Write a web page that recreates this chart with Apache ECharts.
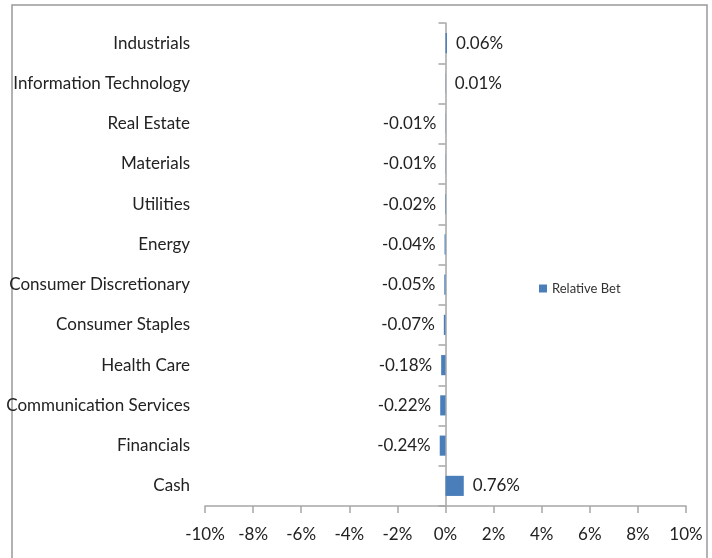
<!DOCTYPE html>
<html lang="en">
<head>
  <meta charset="UTF-8">
  <title>Relative Bet</title>
  <script src="https://cdn.jsdelivr.net/npm/echarts@6/dist/echarts.min.js"></script>
  <style>
    html, body { margin: 0; padding: 0; background: #fff; }
    #chart { width: 712px; height: 558px; }
  </style>
</head>
<body>
  <div id="chart"></div>
  <script>
    const categories = ['Industrials', 'Information Technology', 'Real Estate', 'Materials', 'Utilities',
      'Energy', 'Consumer Discretionary', 'Consumer Staples', 'Health Care',
      'Communication Services', 'Financials', 'Cash'];
    const relativeBet = [0.06, 0.01, -0.01, -0.01, -0.02, -0.04, -0.05, -0.07, -0.18, -0.22, -0.24, 0.76];

    const font = 'Lato, "Open Sans", sans-serif';
    const chart = echarts.init(document.getElementById('chart'));

    const option = {
      animation: false,
      textStyle: { fontFamily: font },
      grid: { left: 205, right: 26, top: 23, bottom: 52 },
      legend: {
        data: ['Relative Bet'],
        left: 534, top: 277,
        icon: 'rect', itemWidth: 8, itemHeight: 8, itemGap: 4,
        textStyle: { fontFamily: font, fontSize: 13, color: '#333' }
      },
      xAxis: {
        type: 'value', min: -10, max: 10, interval: 2,
        splitLine: { show: false },
        axisLine: { show: true, lineStyle: { color: '#a6a6a6', width: 1.5 } },
        axisTick: { show: true, length: 7, lineStyle: { color: '#a6a6a6', width: 1.5 } },
        axisLabel: { formatter: '{value}%', color: '#222', fontSize: 17, margin: 20, fontFamily: font }
      },
      yAxis: [{
        // zero line with category ticks
        type: 'category', inverse: true, data: categories, position: 'left',
        axisLine: { show: true, onZero: true, lineStyle: { color: '#a6a6a6', width: 1.5 } },
        axisTick: { show: true, length: 7, lineStyle: { color: '#a6a6a6', width: 1.5 } },
        axisLabel: { show: false }
      }, {
        // category names at the left edge
        type: 'category', inverse: true, data: categories, position: 'left',
        axisLine: { show: false, onZero: false }, axisTick: { show: false },
        axisLabel: { color: '#222', fontSize: 17, margin: 15, padding: [5, 0, 0, 0], fontFamily: font }
      }],
      series: [{
        name: 'Relative Bet', type: 'bar', barWidth: '50%',
        yAxisIndex: 0,
        itemStyle: { color: '#4a7ebb' },
        data: relativeBet.map(v => ({
          value: v,
          label: { position: v >= 0 ? 'right' : 'left' }
        })),
        label: {
          show: true, distance: 9, color: '#222', fontSize: 17, fontFamily: font,
          padding: [5, 0, 0, 0],
          formatter: p => p.value.toFixed(2) + '%'
        }
      }],
      graphic: [{
        type: 'rect', shape: { x: 12, y: 5, width: 695, height: 560 },
        style: { fill: null, stroke: '#999', lineWidth: 1.5 }, silent: true
      }]
    };
    chart.setOption(option);
  </script>
</body>
</html>
